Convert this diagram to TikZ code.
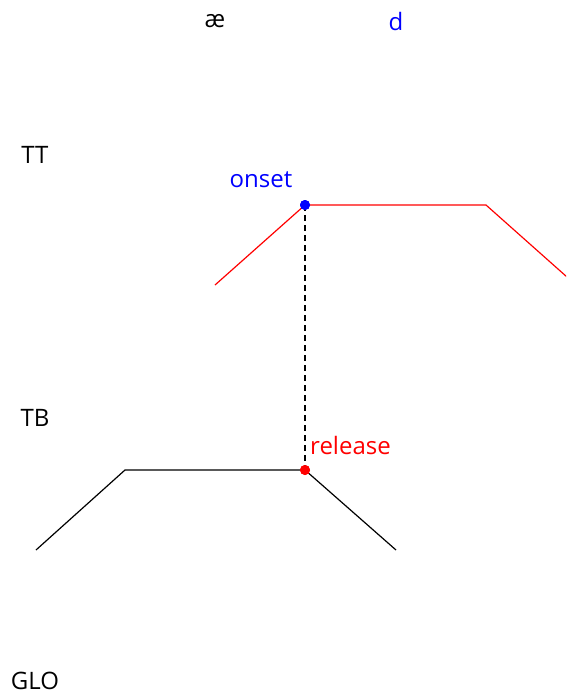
\documentclass[tikz,border=0pt]{standalone}
\usepackage{fontspec}
\setmainfont{Open Sans}
\begin{document}
\begin{tikzpicture}[x=1pt,y=-1pt,
  lbl/.style={font=\fontsize{24}{28}\selectfont, inner sep=0pt},
  dotnode/.style={circle, inner sep=0pt, minimum size=10pt}]
\useasboundingbox (0,0) rectangle (566,694);
\clip (0,0) rectangle (566,694);
\node[lbl] (ae) at (215,21) {æ};
\node[lbl, text=blue] (d) at (396,21) {d};
\node[lbl] (TT) at (35,155) {TT};
\node[lbl] (TB) at (35,418) {TB};
\node[lbl] (GLO) at (35,681) {GLO};
% red TT trajectory
\coordinate (r1) at (215,285);
\coordinate (r2) at (305,205);
\coordinate (r3) at (486,205);
\coordinate (r4) at (576,285);
\draw[red, line width=1.2pt] (r1) -- (r2) -- (r3) -- (r4);
% black TB trajectory
\coordinate (b1) at (36,550);
\coordinate (b2) at (125,470);
\coordinate (b3) at (305,470);
\coordinate (b4) at (396,550);
\draw[black, line width=1.2pt] (b1) -- (b2) -- (b3) -- (b4);
\node[dotnode, fill=blue] (on) at (r2) {};
\node[dotnode, fill=red] (rel) at (b3) {};
\draw[dash pattern=on 6pt off 4pt, line width=1.2pt] (on.center) -- (rel.center);
\node[dotnode, fill=blue] at (r2) {};
\node[dotnode, fill=red] at (b3) {};
\node[lbl, text=blue] (onset) at (261,180) {onset};
\node[lbl, text=red, anchor=west] (release) at (310,445) {release};
\end{tikzpicture}
\end{document}
